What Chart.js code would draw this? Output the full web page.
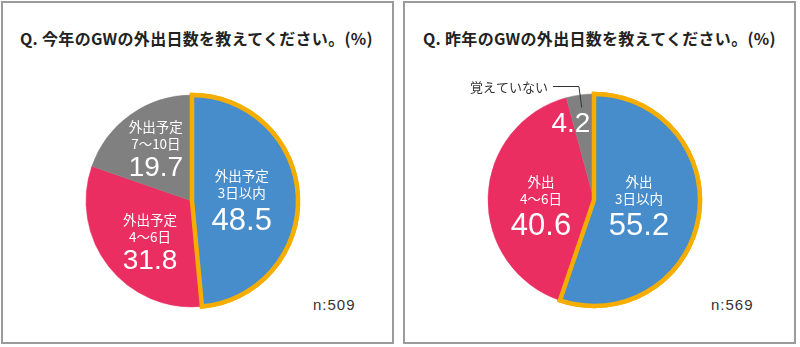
<!DOCTYPE html>
<html lang="ja">
<head>
<meta charset="utf-8">
<title>GWの外出日数</title>
<script src="https://cdn.jsdelivr.net/npm/chart.js@4/dist/chart.umd.min.js"></script>
<style>
  html, body { margin: 0; padding: 0; background: #fff; }
  body { position: relative; width: 800px; height: 347px; overflow: hidden; }
  .panel { position: absolute; top: 1px; width: 393px; height: 343px; box-sizing: border-box; border: 2px solid #9b9b9b; }
  .title { position: absolute; top: 26px; line-height: 20px; font: bold 16px "Noto Sans CJK JP", sans-serif; letter-spacing: 0.3px; color: #222; white-space: nowrap; }
  .n { position: absolute; top: 296px; line-height: 18px; font: 15px "Liberation Sans", Arial, sans-serif; letter-spacing: 1px; color: #333; }
  canvas { position: absolute; }
</style>
</head>
<body>
<div class="panel" style="left:1px"></div>
<div class="panel" style="left:403px"></div>
<div class="title" id="title1" style="left:20px"></div>
<div class="title" id="title2" style="left:423px"></div>
<div class="n" id="n1" style="left:313px"></div>
<div class="n" id="n2" style="left:711px"></div>
<canvas id="pie1" width="300" height="300" style="left:42px;top:51px;width:300px;height:300px"></canvas>
<canvas id="pie2" width="300" height="300" style="left:444px;top:50px;width:300px;height:300px"></canvas>
<script>
// ---- data ----
const titles = ['Q. 今年のGWの外出日数を教えてください。(%)', 'Q. 昨年のGWの外出日数を教えてください。(%)'];
const thisYearCategories = ['外出予定\n3日以内', '外出予定\n4〜6日', '外出予定\n7〜10日'];
const thisYearValues = [48.5, 31.8, 19.7];
const lastYearCategories = ['外出\n3日以内', '外出\n4〜6日', '覚えていない'];
const lastYearValues = [55.2, 40.6, 4.2];
const sampleSizes = [509, 569];

// ---- styles ----
const sliceColors = ['#488dcb', '#eb2e61', '#808080'];
const highlightColor = '#f5ae00';
const labelFont = '"Noto Sans CJK JP", sans-serif';
const numberFont = '"Liberation Sans", Arial, sans-serif';

document.getElementById('title1').textContent = titles[0];
document.getElementById('title2').textContent = titles[1];
document.getElementById('n1').textContent = 'n:' + sampleSizes[0];
document.getElementById('n2').textContent = 'n:' + sampleSizes[1];

// Draws the in-slice labels (category lines + percentage) and an optional callout.
const sliceLabels = {
  id: 'sliceLabels',
  afterDatasetsDraw(chart, args, opts) {
    const ctx = chart.ctx;
    const meta = chart.getDatasetMeta(0);
    const cats = chart.data.labels;
    const vals = chart.data.datasets[0].data;
    ctx.save();
    // the highlighted slice is painted again so its outline sits above its neighbours
    meta.data[opts.highlight].draw(ctx);
    ctx.restore();

    meta.data.forEach((arc, i) => {
      const p = arc.getProps(['x', 'y', 'startAngle', 'endAngle', 'outerRadius'], true);
      const mid = (p.startAngle + p.endAngle) / 2;
      const place = opts.placement[i];
      const ax = p.x + Math.cos(mid) * p.outerRadius * place.frac + place.dx;
      const ay = p.y + Math.sin(mid) * p.outerRadius * place.frac + place.dy;
      const numSize = opts.numberSize[i];
      const gap = numSize >= 30 ? 28 : 24;
      ctx.save();
      ctx.textAlign = 'center';
      ctx.textBaseline = 'middle';
      ctx.fillStyle = '#fff';
      const text = vals[i].toFixed(1);
      if (opts.callout === i) {
        ctx.font = numSize + 'px ' + numberFont;
        ctx.fillText(text, ax, ay);
        // leader line from inside the slice out to the category text
        const tip = { x: p.x + Math.cos(mid) * p.outerRadius * 0.88, y: p.y + Math.sin(mid) * p.outerRadius * 0.88 };
        const elbow = { x: p.x + Math.cos(mid) * p.outerRadius * 1.08, y: p.y + Math.sin(mid) * p.outerRadius * 1.08 };
        ctx.strokeStyle = '#333';
        ctx.lineWidth = 1;
        ctx.beginPath();
        ctx.moveTo(tip.x, tip.y);
        ctx.lineTo(elbow.x, elbow.y);
        ctx.lineTo(elbow.x - 26, elbow.y);
        ctx.stroke();
        ctx.fillStyle = '#333';
        ctx.textAlign = 'right';
        ctx.font = '13px ' + labelFont;
        ctx.fillText(cats[i], elbow.x - 31, elbow.y + 1);
      } else {
        const lines = cats[i].split('\n');
        const numY = ay + (gap + 17) / 2;
        ctx.font = numSize + 'px ' + numberFont;
        ctx.fillText(text, ax, numY);
        ctx.font = '13.5px ' + labelFont;
        ctx.fillText(lines[1], ax, numY - gap);
        ctx.fillText(lines[0], ax, numY - gap - 17);
      }
      ctx.restore();
    });
  }
};

function makePie(id, categories, values, labelOpts) {
  return new Chart(document.getElementById(id), {
    type: 'pie',
    data: {
      labels: categories,
      datasets: [{
        data: values,
        backgroundColor: sliceColors,
        borderColor: [highlightColor, sliceColors[1], sliceColors[2]],
        borderWidth: [4.5, 0.5, 0.5],
        borderAlign: 'center',
        borderJoinStyle: 'miter'
      }]
    },
    options: {
      responsive: false,
      animation: false,
      events: [],
      radius: 106,
      layout: { padding: 0 },
      plugins: {
        legend: { display: false },
        tooltip: { enabled: false },
        title: { display: false },
        sliceLabels: labelOpts
      }
    },
    plugins: [sliceLabels]
  });
}

makePie('pie1', thisYearCategories, thisYearValues, {
  highlight: 0,
  callout: -1,
  numberSize: [31, 28, 28],
  placement: [
    { frac: 0.47, dx: 0, dy: 0 },
    { frac: 0.54, dx: 3, dy: 4 },
    { frac: 0.62, dx: 2, dy: 0 }
  ]
});

makePie('pie2', lastYearCategories, lastYearValues, {
  highlight: 0,
  callout: 2,
  numberSize: [31, 31, 28],
  placement: [
    { frac: 0.43, dx: 0, dy: -3 },
    { frac: 0.5, dx: 0, dy: 6 },
    { frac: 0.72, dx: -13, dy: 0 }
  ]
});
</script>
</body>
</html>
